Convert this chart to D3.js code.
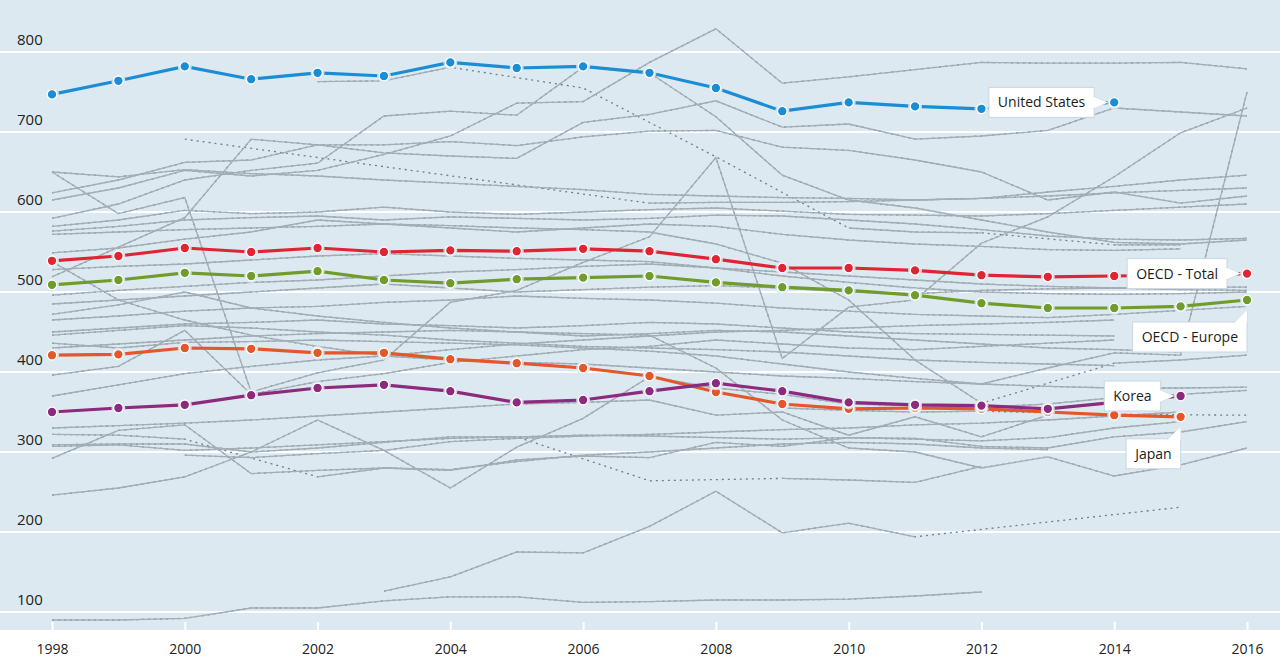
<!DOCTYPE html>
<html>
<head>
<meta charset="utf-8">
<script src="https://cdn.jsdelivr.net/npm/d3@7"></script>
<style>
  html, body { margin: 0; padding: 0; background: #ffffff; }
  svg { display: block; font-family: "Open Sans", "Noto Sans", sans-serif; }
</style>
</head>
<body>
<svg id="chart" width="1280" height="663"></svg>
<script>
// ---- data ----
const years = d3.range(1998, 2017);
const yTickValues = [100, 200, 300, 400, 500, 600, 700, 800];
const xTickValues = [1998, 2000, 2002, 2004, 2006, 2008, 2010, 2012, 2014, 2016];

const unitedStates = [747, 764, 782, 766, 774, 770, 787, 780, 782, 774, 755, 726, 737, 732, 729, 733, 737, null, null];
const oecdTotal    = [539, 545, 555, 550, 555, 550, 552, 551, 554, 551, 541, 530, 530, 527, 521, 519, 520, 521, 523];
const oecdEurope   = [509, 515, 524, 520, 526, 515, 511, 516, 518, 520, 512, 506, 502, 496, 486, 480, 480, 482, 490];
const japan        = [421, 422, 430, 429, 424, 424, 416, 411, 405, 395, 375, 360, 354, 355, 354, 350, 346, 344, null];
const korea        = [350, 355, 359, 371, 380, 384, 376, 362, 365, 376, 386, 376, 362, 359, 358, 354, 362, 370, null];

// other OECD countries, drawn in grey (null = no data, gaps get a dotted line)
const otherCountries = [
  [615, 630, 652, 645, 652, 672, 695, 736, 738, 787, 829, 761, 769, 778, 787, 786, 786, 787, 779],
  [null, null, null, null, 763, 764, 781, null, 755, null, 669, null, 580, 575, 574, null, 559, 559, null],
  [null, null, 691, null, null, null, null, null, null, 611, 612, 612, 613, 615, 617, 620, 624, 627, 630],
  [592, 610, 640, 652, 661, 720, 726, 721, 781, 774, 719, 646, 615, 605, 590, 575, 562, 560, 565],
  [519, 556, 593, 691, 684, 674, 670, 667, 712, 722, 739, 706, 710, 691, 695, 702, 730, 725, 720],
  [650, 598, 618, 375, 399, 415, 487, 502, 537, 569, 668, 417, 481, 490, 561, 594, 644, 699, 730],
  [624, 640, 662, 665, 684, 684, 688, 683, 694, 701, 702, 681, 677, 665, 650, 615, 625, 611, 620],
  [650, 644, 653, 648, 645, 640, 636, 632, 628, 622, 620, 618, 617, 615, 617, 625, 632, 640, 646],
  [582, 590, 602, 598, 600, 606, 600, 597, 600, 603, 605, 601, 597, 596, 595, 598, 602, 606, 610],
  [576, 582, 590, 593, 595, 590, 594, 592, 590, 592, 596, 595, 590, 585, 578, 570, 566, 565, 567],
  [549, 555, 566, 575, 590, 585, 580, 575, 580, 585, 582, 572, 565, 560, 557, 553, 552, 554, null],
  [538, 490, 465, 446, 432, 420, 415, 412, 410, 405, 400, 395, 392, 388, 385, 382, 380, 380, 381],
  [396, 407, 452, 372, 388, 398, 412, 420, 428, 432, 440, 435, 430, 428, 432, 436, 440, null, null],
  [436, 430, 437, 438, 440, 438, 436, 434, 430, 426, 420, 410, 400, 392, 385, 405, 424, 421, 750],
  [496, 502, 507, 512, 515, 520, 525, 528, 532, 535, 530, 525, 520, 515, 510, 507, 505, 503, 502],
  [485, 490, 495, 500, 505, 510, 505, 500, 503, 506, 508, 505, 500, 498, 502, 504, 505, 506, 506],
  [472, 484, 500, 480, 470, 462, 455, 450, 445, 448, 452, 450, 445, 440, 435, 430, 428, 425, null],
  [465, 470, 476, 480, 482, 487, 490, 495, 492, 490, 486, 480, 476, 472, 470, 468, 472, 477, 482],
  [450, 455, 460, 462, 465, 460, 458, 455, 458, 462, 460, 455, 450, 448, 447, 446, 445, null, null],
  [446, 452, 458, 455, 450, 446, 440, 436, 432, 430, 428, 425, 420, 415, 412, 410, 408, null, null],
  [370, 384, 398, 407, 415, 420, 428, 435, 440, 445, 450, 452, 455, 458, 460, 462, 465, null, null],
  [572, 575, 578, 580, 582, 585, 583, 580, 578, 575, 560, 536, 490, 415, 361, null, 411, 415, 421],
  [430, 435, 440, 445, 448, 450, 452, 450, 448, 446, 405, 340, 305, 300, 280, 294, 270, 284, 305],
  [246, 255, 269, 300, 340, 302, 255, 306, 342, 394, 380, 372, 360, 358, 356, 360, 368, 372, 377],
  [292, 327, 334, 273, 277, 280, 277, 290, 295, 293, 312, 307, 318, 317, 307, 305, 319, 325, 338],
  [322, 321, 316, null, 269, 280, 278, 288, 296, 300, 305, 310, 312, 310, 305, 303, null, null, null],
  [307, 309, 302, 305, 309, 313, 317, 319, 321, 320, 318, 316, 318, 316, 314, 318, 330, 338, null],
  [null, null, 296, 293, 298, 302, 313, 317, 320, 322, 325, 328, 330, 334, 336, 340, 345, 350, null],
  [309, 310, 310, 300, 305, 312, 319, 319, null, 264, null, 267, 265, 262, 282, null, null, null, null],
  [330, 333, 336, 340, 345, 350, 355, 360, 362, 365, 346, 350, 321, 344, 319, 346, null, null, null],
  [null, null, null, null, null, null, null, null, null, null, null, 355, 352, 350, 351, null, 347, null, 346],
  [90, 90, 92, 105, 105, 114, 119, 119, 112, 113, 115, 115, 116, 120, 125, null, null, null, null],
  [null, null, null, null, null, 126, 144, 175, 174, 207, 251, 199, 211, 194, null, null, null, 231, null],
  [528, 532, 535, 540, 545, 548, 545, 542, 540, 538, 530, 520, 512, 505, 500, 498, 497, 498, 500]
];

// highlighted series with their callout (drawn in this order)
const highlights = [
  { name: "OECD - Europe", values: oecdEurope, color: "#6f9c2b", labelYear: 2016, callout: "below" },
  { name: "OECD - Total", values: oecdTotal, color: "#df2533", labelYear: 2016, callout: "left" },
  { name: "Japan", values: japan, color: "#e4572b", labelYear: 2015, callout: "below" },
  { name: "Korea", values: korea, color: "#8c2a7e", labelYear: 2015, callout: "left" },
  { name: "United States", values: unitedStates, color: "#1a8dd4", labelYear: 2014, callout: "left" }
];

// ---- layout ----
const width = 1280;
const plotBottom = 630;
const bg = "#dde9f1";

const svg = d3.select("#chart");

const x = d3.scaleLinear().domain([1998, 2016]).range([52, 1247]);
const y = d3.scaleLinear().domain([77.5, 865]).range([plotBottom, 0]);

// plot background
svg.append("rect")
  .attr("x", 0).attr("y", 0)
  .attr("width", width).attr("height", plotBottom)
  .attr("fill", bg);

// horizontal grid + y labels
const grid = svg.append("g");
grid.selectAll("line")
  .data(yTickValues)
  .join("line")
  .attr("x1", 0).attr("x2", width)
  .attr("y1", d => y(d)).attr("y2", d => y(d))
  .attr("stroke", "#ffffff")
  .attr("stroke-width", 2);

grid.selectAll("text")
  .data(yTickValues)
  .join("text")
  .attr("x", 17)
  .attr("y", d => y(d) - 7)
  .attr("fill", "#222")
  .style("font-size", "15px")
  .text(d => d);

// x axis: small white ticks inside the plot, labels below
const xAxis = d3.axisBottom(x)
  .tickValues(xTickValues)
  .tickFormat(d3.format("d"))
  .tickSize(0)
  .tickPadding(14);

const axisG = svg.append("g")
  .attr("transform", `translate(0,${plotBottom})`)
  .call(xAxis);
axisG.select(".domain").remove();
axisG.selectAll(".tick text")
  .attr("fill", "#222")
  .style("font-size", "14px")
  .style("font-family", "\"Open Sans\", \"Noto Sans\", sans-serif");
axisG.selectAll(".tick")
  .append("line")
  .attr("y1", -8).attr("y2", 0)
  .attr("stroke", "#ffffff")
  .attr("stroke-width", 2);

// ---- grey countries ----
const toPoints = vals => vals.map((v, i) => ({ year: years[i], value: v }));

const line = d3.line()
  .defined(d => d.value != null)
  .x(d => x(d.year))
  .y(d => y(d.value));

const greys = svg.append("g").attr("fill", "none");

// dotted line over every known point: shows through where data is missing
greys.selectAll("path.gap")
  .data(otherCountries)
  .join("path")
  .attr("class", "gap")
  .attr("d", vals => line(toPoints(vals).filter(d => d.value != null)))
  .attr("stroke", "#6f7d88")
  .attr("stroke-width", 1.3)
  .attr("stroke-dasharray", "2,4");

greys.selectAll("path.solid")
  .data(otherCountries)
  .join("path")
  .attr("class", "solid")
  .attr("d", vals => line(toPoints(vals)))
  .attr("stroke", "#a3adb5")
  .attr("stroke-width", 1.3);

// ---- highlighted series ----
highlights.forEach(h => {
  const pts = toPoints(h.values).filter(d => d.value != null);
  const g = svg.append("g");

  g.append("path")
    .attr("d", line(pts))
    .attr("fill", "none")
    .attr("stroke", h.color)
    .attr("stroke-width", 3.2);

  // small break in the line round each marker
  g.selectAll("circle.gap")
    .data(pts)
    .join("circle")
    .attr("class", "gap")
    .attr("cx", d => x(d.year)).attr("cy", d => y(d.value))
    .attr("r", 7)
    .attr("fill", bg)
    .attr("opacity", 0.85);

  g.selectAll("circle.dot")
    .data(pts)
    .join("circle")
    .attr("class", "dot")
    .attr("cx", d => x(d.year)).attr("cy", d => y(d.value))
    .attr("r", 4.8)
    .attr("fill", h.color)
    .attr("stroke", "#ffffff")
    .attr("stroke-width", 1.3);
});

// ---- callouts ----
const labels = svg.append("g");

highlights.forEach(h => {
  const i = years.indexOf(h.labelYear);
  const px = x(h.labelYear);
  const py = y(h.values[i]);

  const g = labels.append("g");
  const text = g.append("text")
    .attr("fill", "#1c1c1c")
    .style("font-size", "14px")
    .text(h.name);
  const tw = text.node().getComputedTextLength();
  const padX = 9;
  const bw = tw + padX * 2;
  const bh = 30;

  let bx, by, pointer;
  if (h.callout === "left") {
    bx = px - 20 - bw;
    by = py - bh / 2;
    const r = bx + bw;
    pointer = [[r - 1, py - 6], [px - 7, py], [r - 1, py + 6]];
  } else {
    bx = px - bw;
    by = py + 22;
    const r = bx + bw;
    pointer = [[r - 13, by + 1], [r, py + 10], [r, by + 1]];
  }

  g.insert("rect", "text")
    .attr("x", bx).attr("y", by)
    .attr("width", bw).attr("height", bh)
    .attr("fill", "#ffffff")
    .attr("stroke", "#c9d7e1")
    .attr("stroke-width", 1);

  g.insert("path", "text")
    .attr("d", d3.line()(pointer))
    .attr("fill", "#ffffff")
    .attr("stroke", "#c9d7e1")
    .attr("stroke-width", 1);

  // cover the box border under the pointer
  g.insert("path", "text")
    .attr("d", d3.line()(pointer) + "Z")
    .attr("fill", "#ffffff");

  text.attr("x", bx + padX).attr("y", by + bh / 2 + 5);
});
</script>
</body>
</html>
